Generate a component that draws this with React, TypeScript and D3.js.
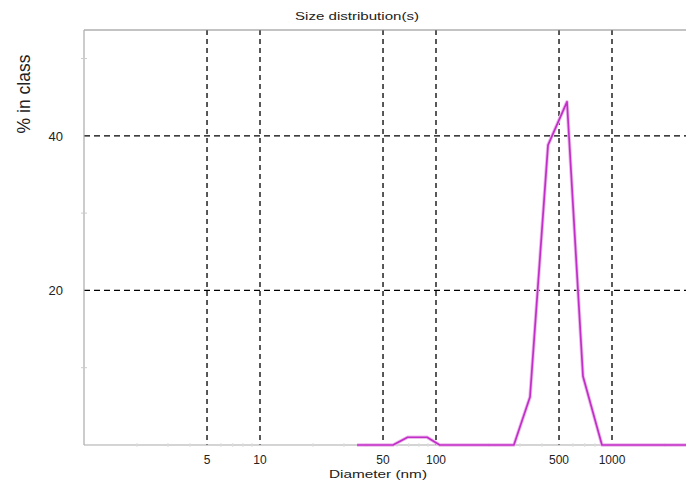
import React from "react";
import * as d3 from "d3";

const diameters = [35.6, 45, 57, 69, 89, 105, 140, 180, 225, 277, 342, 433, 555, 684, 877, 1100, 1500, 2000, 2640];
const percents = [0, 0, 0, 1.0, 1.0, 0, 0, 0, 0, 0, 6.2, 38.8, 44.4, 8.9, 0, 0, 0, 0, 0];
const xGridTicks = [5, 10, 50, 100, 500, 1000];
const yGridTicks = [20, 40];
const yMinorTicks = [10, 30, 50];
const xMinorTicks = [2, 3, 4, 6, 7, 8, 9, 20, 30, 40, 60, 70, 80, 90, 200, 300, 400, 600, 700, 800, 900, 2000];

const W = 686;
const H = 482;
const left = 84;
const top = 30;
const bottom = 445;
const right = 686;

export default function App() {
  const x = d3.scaleLog().domain([1, Math.pow(10, (right - left) / 176)]).range([left, right]);
  const y = d3.scaleLinear().domain([0, (bottom - top) / 7.73]).range([bottom, top]);
  const pts = diameters.map((d, i) => [d, percents[i]] as [number, number]);
  const line = d3.line<[number, number]>().x((d) => x(d[0])).y((d) => y(d[1]));
  const font = "'Liberation Sans', Arial, sans-serif";
  return (
    <svg width={W} height={H} style={{ position: "absolute", left: 0, top: 0, background: "#fff" }} fontFamily={font}>
      <rect x={0} y={0} width={W} height={H} fill="#fff" />
      <text x={357} y={20} fontSize={11} textAnchor="middle" fill="#222" textLength={124} lengthAdjust="spacingAndGlyphs">Size distribution(s)</text>
      <text transform={`translate(30,94) rotate(-90)`} fontSize={17.5} textAnchor="middle" fill="#222">% in class</text>
      {/* grid */}
      {xGridTicks.map((t) => (
        <line key={"gx" + t} x1={x(t)} x2={x(t)} y1={top} y2={bottom} stroke="#000" strokeWidth={1.3} strokeDasharray="5,4" />
      ))}
      {yGridTicks.map((t) => (
        <line key={"gy" + t} x1={left} x2={right} y1={y(t)} y2={y(t)} stroke="#000" strokeWidth={1.3} strokeDasharray="6,4" />
      ))}
      {/* axes */}
      <line x1={left} x2={right} y1={top} y2={top} stroke="#888" strokeWidth={1.2} />
      <line x1={left} x2={left} y1={top} y2={bottom} stroke="#aaa" strokeWidth={1.2} />
      <line x1={left} x2={right} y1={bottom} y2={bottom} stroke="#aaa" strokeWidth={1.2} />
      {yMinorTicks.map((t) => (
        <line key={"my" + t} x1={left - 3} x2={left + 3} y1={y(t)} y2={y(t)} stroke="#ccc" />
      ))}
      {xMinorTicks.map((t) => (
        <line key={"mx" + t} x1={x(t)} x2={x(t)} y1={bottom - 2} y2={bottom + 2} stroke="#ddd" />
      ))}
      {yGridTicks.map((t) => (
        <text key={"ly" + t} x={left - 21} y={y(t) + 5} fontSize={13} textAnchor="end" fill="#222">{t}</text>
      ))}
      {xGridTicks.map((t) => (
        <text key={"lx" + t} x={x(t)} y={464} fontSize={12} textAnchor="middle" fill="#222">{t}</text>
      ))}
      <text x={378} y={478} fontSize={11} textAnchor="middle" fill="#222" textLength={98} lengthAdjust="spacingAndGlyphs">Diameter (nm)</text>
      <path d={line(pts) || ""} fill="none" stroke="#ebbbeb" strokeWidth={3.5} strokeLinejoin="round" />
      <path d={line(pts) || ""} fill="none" stroke="#c22ec8" strokeWidth={1.7} strokeLinejoin="round" />
    </svg>
  );
}
